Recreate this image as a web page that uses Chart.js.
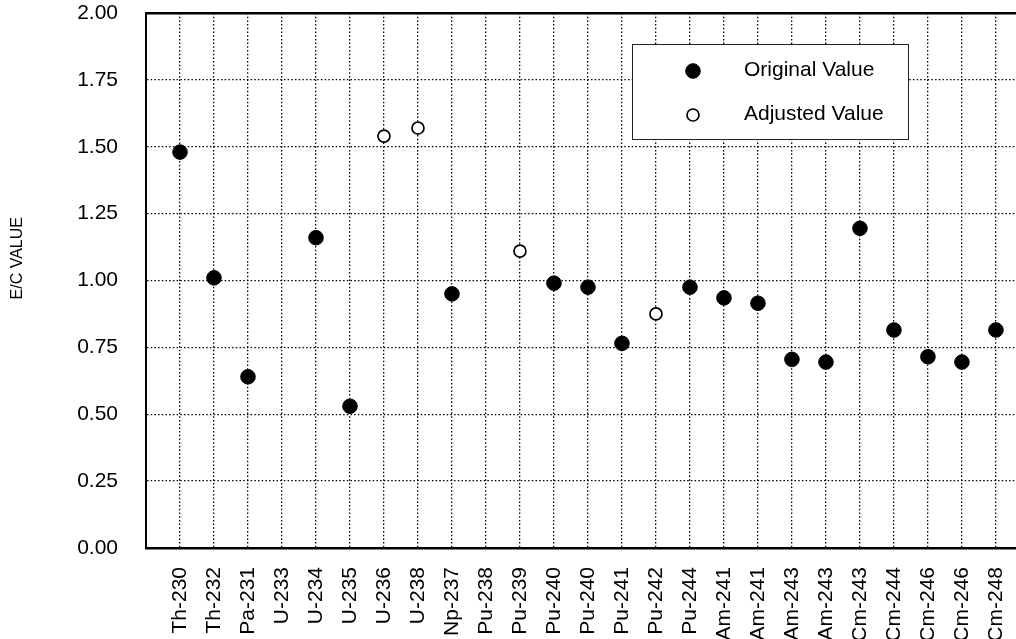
<!DOCTYPE html>
<html>
<head>
<meta charset="utf-8">
<title>E/C Value</title>
<script src="https://cdn.jsdelivr.net/npm/chart.js@4/dist/chart.umd.min.js"></script>
<style>
    html, body { margin: 0; padding: 0; background: #fff; overflow: hidden; }
    .chart-wrap { position: relative; width: 1016px; height: 639px; }
</style>
</head>
<body>
<div class="chart-wrap"><canvas id="ecChart"></canvas></div>
<script>
// ========================================
// DATA
// ========================================

const isotopes = [
    'Th-230', 'Th-232', 'Pa-231', 'U-233', 'U-234', 'U-235', 'U-236', 'U-238', 'Np-237',
    'Pu-238', 'Pu-239', 'Pu-240', 'Pu-240', 'Pu-241', 'Pu-242', 'Pu-244', 'Am-241', 'Am-241',
    'Am-243', 'Am-243', 'Cm-243', 'Cm-244', 'Cm-246', 'Cm-246', 'Cm-248'
];

// null = no point for that isotope
const originalValues = [
    1.48, 1.01, 0.64, null, 1.16, 0.53, null, null, 0.95,
    null, null, 0.99, 0.975, 0.765, null, 0.975, 0.935, 0.915,
    0.705, 0.695, 1.195, 0.815, 0.715, 0.695, 0.815
];

const adjustedValues = [
    null, null, null, null, null, null, 1.54, 1.57, null,
    null, 1.11, null, null, null, 0.875, null, null, null,
    null, null, null, null, null, null, null
];

const yTicks = [0, 0.25, 0.5, 0.75, 1.0, 1.25, 1.5, 1.75, 2.0];

// ========================================
// HELPERS
// ========================================

const FONT = "'Liberation Sans', Arial, Helvetica, sans-serif";

function toPoints(values) {
    return values.map((v, i) => ({ x: i + 1, y: v }));
}

// drop the label overhang padding chart.js adds, so the plot sits where the figure has it
function noPad(scale) {
    scale.paddingLeft = 0;
    scale.paddingRight = 0;
    scale.paddingTop = 0;
    scale.paddingBottom = 0;
}

// legend box drawn inside the plot, like the original figure
const legendBox = {
    id: 'legendBox',
    afterDatasetsDraw(chart) {
        const ctx = chart.ctx;
        const x = 632, y = 44, w = 276, h = 95;
        ctx.save();
        ctx.fillStyle = '#fff';
        ctx.fillRect(x, y, w, h);
        ctx.strokeStyle = '#222';
        ctx.lineWidth = 1;
        ctx.strokeRect(x + 0.5, y + 0.5, w, h);

        chart.data.datasets.forEach((ds, i) => {
            const cy = y + 27 + i * 44;
            ctx.beginPath();
            ctx.arc(x + 61, cy, ds.pointRadius, 0, Math.PI * 2);
            ctx.fillStyle = ds.pointBackgroundColor;
            ctx.fill();
            ctx.lineWidth = ds.pointBorderWidth;
            ctx.strokeStyle = ds.pointBorderColor;
            ctx.stroke();

            ctx.fillStyle = '#000';
            ctx.font = '21px ' + FONT;
            ctx.textBaseline = 'middle';
            ctx.textAlign = 'left';
            ctx.fillText(ds.label, x + 112, cy - 1);
        });
        ctx.restore();
    }
};

// ========================================
// CHART
// ========================================

const ecChart = new Chart(document.getElementById('ecChart'), {
    type: 'scatter',
    data: {
        datasets: [
            {
                label: 'Original Value',
                data: toPoints(originalValues),
                pointRadius: 7.3,
                pointHoverRadius: 7.3,
                pointBackgroundColor: '#000',
                pointBorderColor: '#000',
                pointBorderWidth: 1
            },
            {
                label: 'Adjusted Value',
                data: toPoints(adjustedValues),
                pointRadius: 6,
                pointHoverRadius: 6,
                pointBackgroundColor: '#fff',
                pointBorderColor: '#000',
                pointBorderWidth: 1.7
            }
        ]
    },
    options: {
        responsive: true,
        maintainAspectRatio: false,
        animation: false,
        layout: {
            // plot runs off the right edge of the figure, so no room kept for point overflow
            autoPadding: false,
            padding: { top: 13, right: 0, bottom: 0, left: 0 }
        },
        plugins: {
            legend: { display: false },
            tooltip: { enabled: false }
        },
        scales: {
            x: {
                type: 'linear',
                min: 0,
                max: isotopes.length + 0.59,
                afterFit: scale => {
                    scale.height = 91;
                    noPad(scale);
                },
                afterBuildTicks: scale => {
                    scale.ticks = Array.from({ length: isotopes.length + 1 }, (_, i) => ({ value: i }));
                },
                ticks: {
                    autoSkip: false,
                    maxRotation: 90,
                    minRotation: 90,
                    padding: 19,
                    color: '#000',
                    font: { family: FONT, size: 21 },
                    callback: value => isotopes[value - 1] || ''
                },
                grid: {
                    color: '#000',
                    lineWidth: 1.3,
                    drawTicks: false
                },
                border: {
                    display: true,
                    color: '#000',
                    width: 2.5,
                    dash: [1.5, 2.2]
                }
            },
            y: {
                min: 0,
                max: 2,
                afterFit: scale => {
                    scale.width = 146;
                    noPad(scale);
                },
                afterBuildTicks: scale => {
                    scale.ticks = yTicks.map(v => ({ value: v }));
                },
                ticks: {
                    padding: 28,
                    color: '#000',
                    font: { family: FONT, size: 21 },
                    callback: value => value.toFixed(2)
                },
                title: {
                    display: true,
                    text: '          E/C VALUE',
                    color: '#000',
                    font: { family: FONT, size: 16 },
                    padding: { top: 8, bottom: 0 }
                },
                grid: {
                    color: '#000',
                    // top line of the frame is solid and heavy
                    lineWidth: ctx => (ctx.tick && ctx.tick.value === 2 ? 2.5 : 1.3),
                    drawTicks: false
                },
                border: {
                    display: true,
                    color: '#000',
                    width: 2,
                    dash: ctx => (ctx.tick && ctx.tick.value === 2 ? [] : [1.5, 2.2])
                }
            }
        }
    },
    plugins: [legendBox]
});
</script>
</body>
</html>
